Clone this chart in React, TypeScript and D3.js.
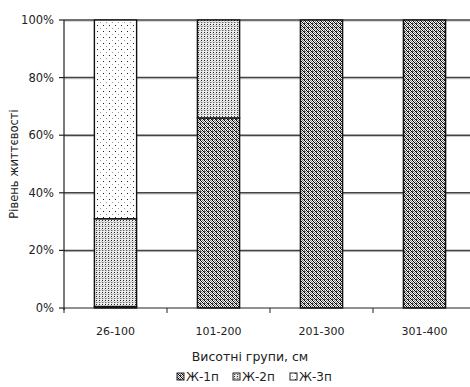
import React from "react";
import * as d3 from "d3";

const categories = ["26-100", "101-200", "201-300", "301-400"];
const seriesNames = ["Ж-1п", "Ж-2п", "Ж-3п"];
const zh1 = [0.5, 66, 100, 100];
const zh2 = [30.5, 34, 0, 0];
const zh3 = [69, 0, 0, 0];
const yTicks = [0, 20, 40, 60, 80, 100];

const W = 470;
const H = 387;
const margin = { left: 64, top: 20, right: -6, bottom: 79 };

export default function App() {
  const x = d3
    .scaleBand<string>()
    .domain(categories)
    .range([margin.left, W - margin.right])
    .paddingInner(0.59)
    .paddingOuter(0.295);
  const y = d3.scaleLinear().domain([0, 100]).range([H - margin.bottom, margin.top]);

  const rows = categories.map((c, i) => ({ cat: c, s0: zh1[i], s1: zh2[i], s2: zh3[i] }));
  const stacked = d3.stack<any>().keys(["s0", "s1", "s2"])(rows);
  const fills = ["url(#p1)", "url(#p2)", "url(#p3)"];

  const step = x.step();
  const bounds = categories.map((c) => (x(c) as number) - (step - x.bandwidth()) / 2);
  bounds.push(bounds[bounds.length - 1] + step);

  const font = "'DejaVu Sans', Verdana, sans-serif";
  const legendX = [177, 233, 290];

  return (
    <svg width={W} height={H} style={{ position: "absolute", left: 0, top: 0 }}>
      <defs>
        <pattern id="p1" width="4" height="4" patternUnits="userSpaceOnUse">
          <rect width="4" height="4" fill="#f4f4f4" />
          <rect x="0" y="0" width="1" height="1" fill="#000" />
          <rect x="1" y="1" width="1" height="1" fill="#000" />
          <rect x="2" y="0" width="1" height="1" fill="#777" />
          <rect x="3" y="1" width="1" height="1" fill="#777" />
          <rect x="2" y="2" width="1" height="1" fill="#000" />
          <rect x="3" y="3" width="1" height="1" fill="#000" />
          <rect x="0" y="2" width="1" height="1" fill="#777" />
          <rect x="1" y="3" width="1" height="1" fill="#777" />
          <rect x="0" y="3" width="1" height="1" fill="#444" />
        </pattern>
        <pattern id="p2" width="3" height="4" patternUnits="userSpaceOnUse">
          <rect width="3" height="4" fill="#ebebeb" />
          <rect x="0" y="0" width="1" height="1" fill="#222" />
          <rect x="1" y="2" width="1" height="1" fill="#aaa" />
          <rect x="2" y="1" width="1" height="1" fill="#c8c8c8" />
          <rect x="0" y="2" width="1" height="1" fill="#666" />
        </pattern>
        <pattern id="p3" width="6" height="6" patternUnits="userSpaceOnUse">
          <rect width="6" height="6" fill="#ffffff" />
          <rect x="1" y="1" width="1" height="1" fill="#222" />
          <rect x="4" y="4" width="1" height="1" fill="#999" />
        </pattern>
      </defs>

      {/* horizontal gridlines */}
      {yTicks.slice(1).map((t) => (
        <g key={t}>
          <line x1={margin.left} x2={W} y1={y(t) + 1.2} y2={y(t) + 1.2} stroke="#c8c8c8" strokeWidth={1} />
          <line x1={margin.left} x2={W} y1={y(t)} y2={y(t)} stroke="#444" strokeWidth={1.5} />
        </g>
      ))}

      {/* stacked bars */}
      {stacked.map((layer, li) =>
        layer.map((d, i) => {
          const h = y(d[0]) - y(d[1]);
          if (h <= 0) return null;
          return (
            <rect
              key={`${li}-${i}`}
              x={x(categories[i])}
              y={y(d[1])}
              width={x.bandwidth()}
              height={h}
              fill={fills[li]}
              stroke="#111"
              strokeWidth={1.4}
            />
          );
        })
      )}

      {/* y axis */}
      <line x1={margin.left} x2={margin.left} y1={y(100)} y2={y(0) + 2} stroke="#222" strokeWidth={1.2} />
      {yTicks.map((t) => (
        <g key={t}>
          <line x1={margin.left - 5} x2={margin.left} y1={y(t)} y2={y(t)} stroke="#222" strokeWidth={1.2} />
          <text
            x={margin.left - 10}
            y={y(t)}
            dy="0.35em"
            textAnchor="end"
            fontFamily={font}
            fontSize={11.5}
            fill="#222"
          >
            {t}%
          </text>
        </g>
      ))}

      {/* x axis */}
      <line x1={margin.left} x2={W} y1={y(0)} y2={y(0)} stroke="#222" strokeWidth={1.2} />
      {bounds.map((b, i) => (
        <line key={i} x1={b} x2={b} y1={y(0)} y2={y(0) + 5} stroke="#222" />
      ))}
      {categories.map((c) => (
        <text
          key={c}
          x={(x(c) as number) + x.bandwidth() / 2}
          y={y(0) + 27}
          textAnchor="middle"
          fontFamily={font}
          fontSize={11}
          fill="#222"
        >
          {c}
        </text>
      ))}

      <text x={250} y={361} textAnchor="middle" fontFamily={font} fontSize={12.5} fill="#222">
        Висотні групи, см
      </text>
      <text
        transform={`translate(18,${(y(0) + y(100)) / 2}) rotate(-90)`}
        textAnchor="middle"
        fontFamily={font}
        fontSize={11.5}
        fill="#222"
      >
        Рівень життєвості
      </text>

      {/* legend */}
      {seriesNames.map((n, i) => (
        <g key={n}>
          <rect x={legendX[i]} y={373} width={7} height={7} fill={fills[i]} stroke="#222" strokeWidth={1} />
          <text x={legendX[i] + 9} y={381} fontFamily={font} fontSize={12} fill="#222">
            {n}
          </text>
        </g>
      ))}
    </svg>
  );
}
